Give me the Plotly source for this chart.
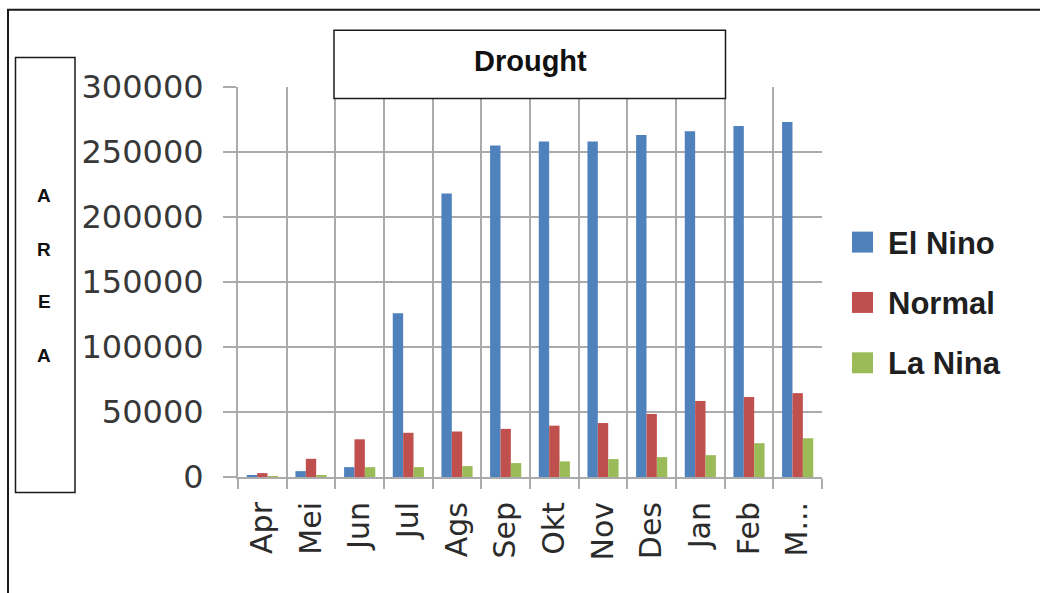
import plotly.graph_objects as go

# Monthly drought area per ENSO phase
months = ["Apr", "Mei", "Jun", "Jul", "Ags", "Sep", "Okt", "Nov", "Des", "Jan", "Feb", "Mar"]
tick_labels = ["Apr", "Mei", "Jun", "Jul", "Ags", "Sep", "Okt", "Nov", "Des", "Jan", "Feb", "M..."]
el_nino = [1500, 4500, 7600, 126000, 218000, 255000, 258000, 258000, 263000, 266000, 270000, 273000]
normal = [3000, 14000, 29000, 34000, 35000, 37000, 39500, 41500, 48500, 58500, 61500, 64500]
la_nina = [500, 1000, 7600, 7600, 8400, 10700, 12000, 13800, 15300, 16800, 26000, 29800]

series_names = ["El Nino", "Normal", "La Nina"]
series_colors = ["#4F81BD", "#C0504D", "#9BBB59"]

W, H = 1040, 593
PL, PR, PT, PB = 238, 822, 86.5, 477.5  # plot area in pixels


def px(x):
    return (x - PL) / (PR - PL)


def py(y):
    return (PB - y) / (PB - PT)


fig = go.Figure()
for name, vals, col in zip(series_names, [el_nino, normal, la_nina], series_colors):
    fig.add_trace(go.Bar(x=months, y=vals, name=name, marker_color=col,
                         marker_line_width=0, showlegend=False))

grid = "#ababab"
fig.update_layout(
    width=W, height=H,
    margin=dict(l=PL, r=W - PR, t=PT, b=H - PB, pad=0),
    paper_bgcolor="white", plot_bgcolor="white",
    barmode="group", bargap=0.36, bargroupgap=0,
    showlegend=False,
    xaxis=dict(
        type="category", tickmode="array", tickvals=months, ticktext=tick_labels,
        tickson="boundaries", showgrid=True, gridcolor=grid, gridwidth=2,
        ticks="outside", ticklen=10, tickwidth=2, tickcolor=grid,
        showline=True, linecolor=grid, linewidth=2,
        tickangle=-90, ticklabelstandoff=11,
        tickfont=dict(family="DejaVu Sans", size=30, color="#2b2b2b"),
    ),
    yaxis=dict(
        range=[0, 300000], dtick=50000, tickformat="d",
        showgrid=True, gridcolor=grid, gridwidth=2,
        ticks="outside", ticklen=13, tickwidth=2, tickcolor=grid,
        showline=True, linecolor=grid, linewidth=2, zeroline=False,
        ticklabelstandoff=13,
        tickfont=dict(family="DejaVu Sans", size=32, color="#383838"),
    ),
)

shapes = []
# outer frame
shapes.append(dict(type="rect", xref="paper", yref="paper",
                   x0=px(8), x1=px(1060), y0=py(9), y1=py(620),
                   line=dict(color="#1a1a1a", width=2), fillcolor="rgba(0,0,0,0)", layer="above"))
# axis title box
shapes.append(dict(type="rect", xref="paper", yref="paper",
                   x0=px(15.5), x1=px(75), y0=py(57), y1=py(493),
                   line=dict(color="#1a1a1a", width=1.5), fillcolor="white", layer="above"))
# chart title box
shapes.append(dict(type="rect", xref="paper", yref="paper",
                   x0=px(334), x1=px(725.5), y0=py(29.5), y1=py(98),
                   line=dict(color="#1a1a1a", width=1.5), fillcolor="white", layer="above"))

annotations = []
annotations.append(dict(text="<b>Drought</b>", xref="paper", yref="paper",
                        x=px(530), y=py(60), showarrow=False, xanchor="center", yanchor="middle",
                        font=dict(family="Liberation Sans", size=29, color="#111111")))
for letter, yy in zip("AREA", [195, 249, 302, 356]):
    annotations.append(dict(text="<b>%s</b>" % letter, xref="paper", yref="paper",
                            x=px(44), y=py(yy), showarrow=False, xanchor="center", yanchor="middle",
                            font=dict(family="Liberation Sans", size=19, color="#111111")))

# legend
for i, (name, col) in enumerate(zip(series_names, series_colors)):
    cy = 242 + i * 60.5
    shapes.append(dict(type="rect", xref="paper", yref="paper",
                       x0=px(852), x1=px(873), y0=py(cy - 10.5), y1=py(cy + 10.5),
                       line=dict(width=0), fillcolor=col, layer="above"))
    annotations.append(dict(text="<b>%s</b>" % name, xref="paper", yref="paper",
                            x=px(886), y=py(cy + 1), showarrow=False, xanchor="left", yanchor="middle",
                            font=dict(family="Liberation Sans", size=31, color="#1f1f1f")))

fig.update_layout(shapes=shapes, annotations=annotations)
fig.write_html("out.html")
